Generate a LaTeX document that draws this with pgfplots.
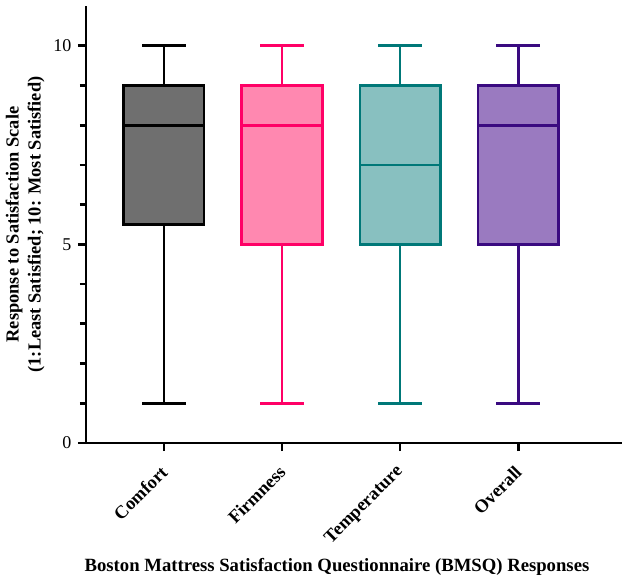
\documentclass[border=0pt]{standalone}
\usepackage{pgfplots}
\pgfplotsset{compat=1.18}
\usepgfplotslibrary{statistics}
\usepackage{fontspec}
\setmainfont{Liberation Serif}
\definecolor{cgrayf}{HTML}{6F6F6F}
\definecolor{cgraye}{HTML}{000000}
\definecolor{cpinkf}{HTML}{FF88B0}
\definecolor{cpinke}{HTML}{FF0066}
\definecolor{ctealf}{HTML}{88C0C0}
\definecolor{cteale}{HTML}{007878}
\definecolor{cpurpf}{HTML}{9A7AC0}
\definecolor{cpurpe}{HTML}{3A0A80}
\begin{document}
\begin{tikzpicture}
\begin{axis}[
  scale only axis,
  width=536bp, height=437bp,
  xmin=-0.66, xmax=3.88,
  ymin=0, ymax=11,
  boxplot/draw direction=y,
  axis x line*=bottom, axis y line*=left,
  axis line style={line width=2.8bp, -},
  xtick={0,1,2,3},
  xticklabels={Comfort,Firmness,Temperature,Overall},
  ytick={0,5,10},
  minor ytick={1,2,3,4,6,7,8,9},
  tick align=outside,
  major tick length=8bp,
  minor tick length=6bp,
  every tick/.style={line width=2.8bp, black},
  every minor tick/.style={line width=2.8bp, black},
  /pgf/number format/assume math mode=true,
  tick label style={font=\fontsize{18bp}{20bp}\selectfont},
  yticklabel style={xshift=-3bp},
  xticklabel style={font=\fontsize{18.3bp}{20bp}\selectfont\bfseries, rotate=45, anchor=east, xshift=-9.3bp, yshift=-13.1bp},
  xlabel={Boston Mattress Satisfaction Questionnaire (BMSQ) Responses},
  ylabel={Response to Satisfaction Scale\\(1:Least Satisfied; 10: Most Satisfied)},
  label style={font=\fontsize{18.4bp}{22bp}\selectfont\bfseries, align=center},
  xlabel style={font=\fontsize{18.7bp}{19.5bp}\selectfont\bfseries, yshift=-3bp, xshift=-17bp},
  ylabel style={yshift=2bp},
  clip=false,
]
\addplot+[boxplot prepared={median=8, upper quartile=9, lower quartile=5.5,
  upper whisker=10, lower whisker=1, draw position=0, box extend=0.68, whisker extend=0.37},
  draw=cgraye, fill=cgrayf, line width=2.8bp, mark=none, solid] coordinates {};
\addplot+[boxplot prepared={median=8, upper quartile=9, lower quartile=5,
  upper whisker=10, lower whisker=1, draw position=1, box extend=0.68, whisker extend=0.37},
  draw=cpinke, fill=cpinkf, line width=2.8bp, mark=none, solid] coordinates {};
\addplot+[boxplot prepared={median=7, upper quartile=9, lower quartile=5,
  upper whisker=10, lower whisker=1, draw position=2, box extend=0.68, whisker extend=0.37},
  draw=cteale, fill=ctealf, line width=2.8bp, mark=none, solid] coordinates {};
\addplot+[boxplot prepared={median=8, upper quartile=9, lower quartile=5,
  upper whisker=10, lower whisker=1, draw position=3, box extend=0.68, whisker extend=0.37},
  draw=cpurpe, fill=cpurpf, line width=2.8bp, mark=none, solid] coordinates {};
\end{axis}
\path (current axis.south west) ++(-86bp,-138bp) rectangle ++(624bp,581bp);
\end{tikzpicture}
\end{document}
